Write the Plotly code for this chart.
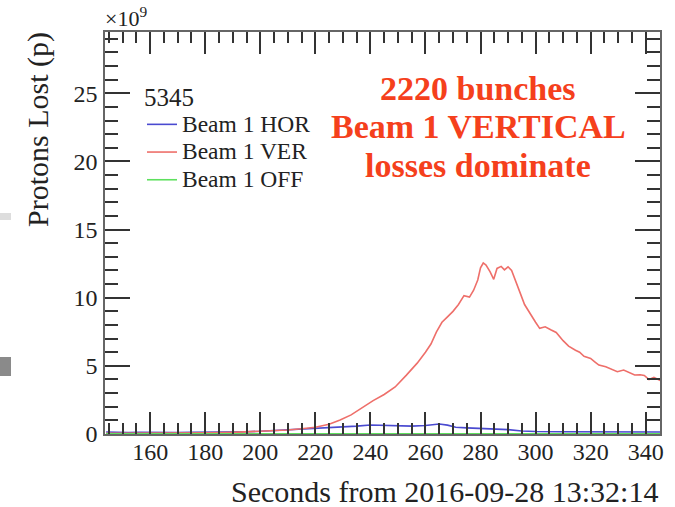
import plotly.graph_objects as go

# ---- data (seconds, protons lost in units of 1e9) ----
ver_x = [144, 150, 160, 170, 180, 190, 195, 200, 205, 210, 215, 220, 225, 229, 233, 237, 241, 245, 249, 253,
         257, 260, 262, 264, 266, 268, 270, 272, 274, 276, 277.5, 279, 280, 281, 282, 283.5, 284.8, 286, 287.5,
         288.7, 290, 291.3, 292.5, 294.5, 296, 298, 300, 301.5, 303.5, 305.5, 307.5, 310, 312, 314.5, 316,
         317.6, 320, 321.5, 323, 325.5, 327.5, 329.7, 332, 334, 336, 338, 339.5, 341.2, 343, 345.5]
ver_y = [0.05, 0.05, 0.06, 0.07, 0.08, 0.12, 0.15, 0.18, 0.22, 0.29, 0.38, 0.49, 0.72, 1.03, 1.4, 1.95, 2.45,
         2.9, 3.45, 4.3, 5.2, 6.0, 6.6, 7.5, 8.2, 8.6, 9.0, 9.5, 10.15, 10.05, 10.55, 11.3, 12.2, 12.55, 12.4,
         11.9, 11.35, 12.15, 12.3, 12.05, 12.27, 12.0, 11.3, 10.3, 9.5, 8.8, 8.2, 7.75, 7.87, 7.65, 7.45, 6.85,
         6.45, 6.15, 6.0, 5.7, 5.55, 5.3, 5.06, 4.93, 4.75, 4.57, 4.69, 4.5, 4.33, 4.35, 4.3, 4.0, 4.15, 3.9]

hor_x = [144, 148, 152, 156, 160, 165, 170, 175, 180, 185, 190, 195, 200, 205, 210, 215, 220, 225, 230, 235,
         240, 245, 250, 255, 260, 265, 268, 271, 275, 280, 285, 290, 295, 300, 310, 320, 330, 345.5]
hor_y = [0.15, 0.12, 0.1, 0.12, 0.1, 0.12, 0.1, 0.12, 0.12, 0.14, 0.15, 0.17, 0.2, 0.25, 0.3, 0.38, 0.42, 0.48,
         0.55, 0.58, 0.66, 0.62, 0.6, 0.58, 0.62, 0.73, 0.65, 0.5, 0.45, 0.4, 0.4, 0.32, 0.22, 0.18, 0.16, 0.15,
         0.15, 0.15]

off_x = [144, 200, 250, 300, 345.5]
off_y = [0.02, 0.02, 0.03, 0.02, 0.02]

names = ["Beam 1 HOR", "Beam 1 VER", "Beam 1 OFF"]
legend_title = "5345"
colors = ["#4a4ad0", "#ee6f6a", "#5ee05e"]

SERIF = "Liberation Serif"
LEG_SPAN = '<span style="font-size:23.5px">{}</span>'

fig = go.Figure()
for nm, xs, ys, c in zip(names, [hor_x, ver_x, off_x], [hor_y, ver_y, off_y], colors):
    fig.add_trace(go.Scatter(x=xs, y=ys, mode="lines", name=LEG_SPAN.format(nm),
                             line=dict(color=c, width=1.6)))

W, H = 675, 507
L, R, T, B = 105, 15, 32, 73
pw, ph = W - L - R, H - T - B

def px(x):
    return (x - L) / pw

def py(y):
    return (H - B - y) / ph

axis_common = dict(
    showgrid=False, zeroline=False, showline=True, linecolor="#666", linewidth=1.5,
    ticks="inside", tickcolor="#333", tickwidth=1.5, mirror="allticks",
    tickfont=dict(family=SERIF, size=24, color="#222"),
)

fig.update_xaxes(range=[143.6, 345.2], tick0=0, dtick=20, ticklen=22,
                 minor=dict(dtick=5, ticks="inside", ticklen=11, tickcolor="#333", tickwidth=1.5),
                 ticklabelstandoff=-5, **axis_common)
fig.update_yaxes(range=[0, 29.5], tick0=0, dtick=5, ticklen=25,
                 minor=dict(dtick=1, ticks="inside", ticklen=13, tickcolor="#333", tickwidth=1.5),
                 ticklabelstandoff=1, **axis_common)

annotations = [
    dict(text="×10<sup>9</sup>", x=px(103), y=py(33), xanchor="left", yanchor="bottom",
         font=dict(family=SERIF, size=22, color="#222")),
    dict(text="Seconds from 2016-09-28 13:32:14", x=px(660), y=py(492), xanchor="right", yanchor="middle",
         font=dict(family=SERIF, size=30, color="#222")),
    dict(text="Protons Lost (p)", x=px(38), y=py(130), xanchor="center", yanchor="middle", textangle=-90,
         font=dict(family=SERIF, size=30, color="#222")),
]
red_lines = ["2220 bunches", "Beam 1 VERTICAL", "losses dominate"]
for t, yc in zip(red_lines, [88, 127, 165]):
    annotations.append(dict(text="<b>" + t + "</b>", x=px(478), y=py(yc), xanchor="center", yanchor="middle",
                            font=dict(family=SERIF, size=34, color="#f5401c")))
for a in annotations:
    a.update(xref="paper", yref="paper", showarrow=False)

shapes = [
    dict(type="rect", xref="paper", yref="paper", x0=px(0), x1=px(11), y0=py(220), y1=py(213),
         fillcolor="#dddddd", line=dict(width=0), layer="below"),
    dict(type="rect", xref="paper", yref="paper", x0=px(0), x1=px(11), y0=py(376), y1=py(357),
         fillcolor="#8a8a8a", line=dict(width=0), layer="below"),
]

fig.update_layout(
    width=W, height=H,
    margin=dict(l=L, r=R, t=T, b=B),
    paper_bgcolor="white", plot_bgcolor="white",
    font=dict(family=SERIF, color="#222"),
    showlegend=True,
    legend=dict(
        title=dict(text=legend_title, font=dict(family=SERIF, size=25, color="#222")),
        font=dict(family=SERIF, size=19, color="#222"),
        x=px(142), y=py(73), xanchor="left", yanchor="top",
        bgcolor="rgba(0,0,0,0)", borderwidth=0, tracegroupgap=0,
    ),
    annotations=annotations,
    shapes=shapes,
)

fig.write_html("out.html")
